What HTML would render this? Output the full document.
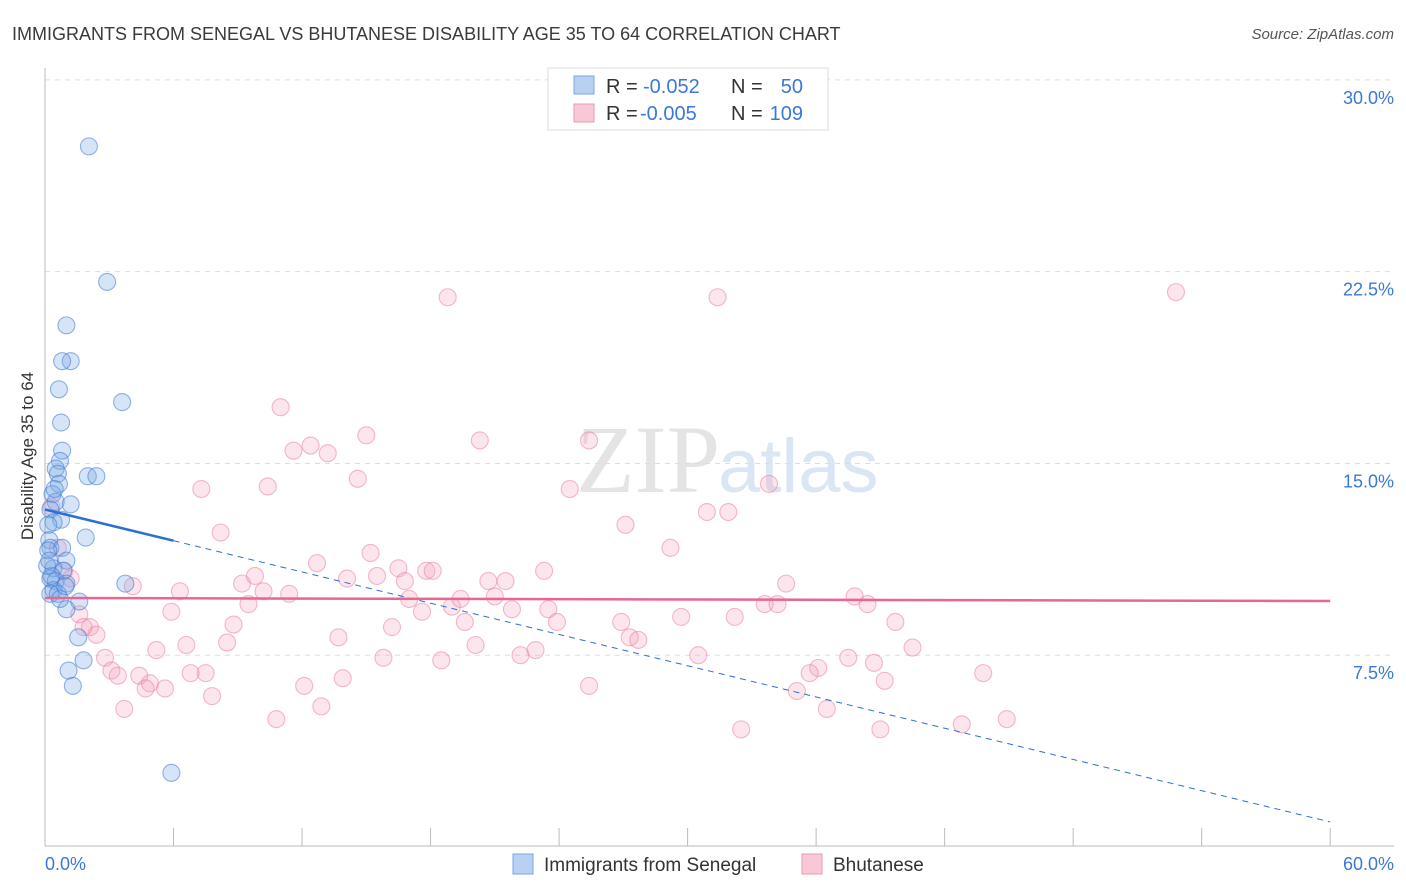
<!DOCTYPE html>
<html><head><meta charset="utf-8"><style>
body{margin:0;background:#fff;font-family:"Liberation Sans",sans-serif;}
svg{display:block}
</style></head><body>
<svg id="c" width="1406" height="892" xmlns="http://www.w3.org/2000/svg">
<text x="12" y="40" font-size="18" fill="#3a3a3a">IMMIGRANTS FROM SENEGAL VS BHUTANESE DISABILITY AGE 35 TO 64 CORRELATION CHART</text>
<text x="1394" y="39" font-size="15" fill="#555" text-anchor="end" font-style="italic">Source: ZipAtlas.com</text>
<text x="720" y="492" font-size="96" fill="#e4e4e4" text-anchor="end" font-family="Liberation Serif">ZIP</text>
<text x="718" y="492" font-size="76" fill="#dbe6f4">atlas</text>
<g id="grid"></g><g id="axes"></g><g id="pts"></g><g id="trend"></g>
<text transform="translate(33,456) rotate(-90)" font-size="17" fill="#333" text-anchor="middle">Disability Age 35 to 64</text>
<text x="45" y="870" font-size="18" fill="#3b78d8">0.0%</text>
<text x="1394" y="870" font-size="18" fill="#3b78d8" text-anchor="end">60.0%</text>
<g>
<rect x="548" y="68" width="280" height="62" fill="#fff" stroke="#ddd"/>
<rect x="574" y="76" width="20" height="18" fill="#b8d1f3" stroke="#7aa6e0"/>
<rect x="574" y="104" width="20" height="18" fill="#f8c8d6" stroke="#e99ab2"/>
<text x="606" y="93" font-size="20" fill="#333">R =</text>
<text x="643" y="93" font-size="20" fill="#3b78d8">-0.052</text>
<text x="731" y="93" font-size="20" fill="#333">N =</text>
<text x="803" y="93" font-size="20" fill="#3b78d8" text-anchor="end">50</text>
<text x="606" y="120" font-size="20" fill="#333">R =</text>
<text x="640" y="120" font-size="20" fill="#3b78d8">-0.005</text>
<text x="731" y="120" font-size="20" fill="#333">N =</text>
<text x="803" y="120" font-size="20" fill="#3b78d8" text-anchor="end">109</text>
</g>
<g>
<rect x="513" y="854" width="20" height="20" fill="#b8d1f3" stroke="#7aa6e0"/>
<text x="544" y="871" font-size="19" fill="#333">Immigrants from Senegal</text>
<rect x="802" y="854" width="20" height="20" fill="#f8c8d6" stroke="#e99ab2"/>
<text x="833" y="871" font-size="19" fill="#333">Bhutanese</text>
</g>
</svg>
<script>
const yTicks=[7.5,15,22.5,30];
const yTickLabels=["7.5%","15.0%","22.5%","30.0%"];
const xTicks=[0,6,12,18,24,30,36,42,48,54,60];
const blueX=[2.05,2.9,1.0,1.2,0.8,0.65,3.6,0.75,0.8,0.7,0.5,0.6,2.0,2.4,0.65,0.35,0.5,1.2,0.25,0.75,0.4,0.15,1.9,0.2,0.25,0.8,1.0,0.4,0.85,0.25,0.5,1.0,3.75,0.4,0.25,0.6,1.6,1.0,1.55,1.8,1.1,1.3,5.9,0.15,0.3,0.7,0.1,0.45,0.95,0.2];
const blueY=[27.4,22.1,20.4,19.0,19.0,17.9,17.4,16.6,15.5,15.1,14.8,14.6,14.5,14.5,14.2,13.8,13.5,13.4,13.2,12.8,12.7,12.6,12.1,12.0,11.7,11.7,11.2,10.9,10.8,10.5,10.4,10.3,10.3,10.05,9.9,9.9,9.6,9.3,8.2,7.3,6.9,6.3,2.9,11.6,10.6,9.7,11.0,14.0,10.2,11.2];
const pinkX=[18.8,31.4,52.8,11.0,15.0,20.3,25.4,12.4,11.6,13.2,14.6,7.3,10.4,24.5,33.8,27.1,30.9,31.9,8.2,29.2,15.2,12.7,0.6,0.9,0.3,23.3,16.5,17.8,18.1,14.1,15.5,16.8,20.7,21.5,9.8,9.2,6.3,4.1,1.2,10.2,11.4,34.6,17.0,19.0,21.0,19.4,9.5,21.8,23.5,5.9,1.6,37.8,38.4,33.6,34.2,17.6,19.6,23.9,26.9,29.7,32.2,39.7,8.8,2.1,2.4,1.8,27.3,27.7,16.2,13.7,6.6,8.5,5.2,20.1,22.9,22.2,40.5,15.8,18.5,30.5,37.5,38.7,2.8,36.1,35.7,7.5,6.8,3.1,3.4,4.4,4.9,4.7,5.6,12.1,13.9,25.4,39.2,43.8,35.1,7.8,36.5,12.9,3.7,10.8,32.5,39.0,42.8,44.9];
const pinkY=[21.5,21.5,21.7,17.2,16.1,15.9,15.9,15.7,15.5,15.4,14.4,14.0,14.1,14.0,14.2,12.6,13.1,13.1,12.3,11.7,11.5,11.1,11.7,10.8,13.3,10.8,10.9,10.8,10.8,10.5,10.6,10.4,10.4,10.4,10.6,10.3,10.0,10.2,10.5,10.0,9.9,10.3,9.7,9.4,9.8,9.7,9.5,9.3,9.3,9.2,9.1,9.8,9.5,9.5,9.5,9.2,8.8,8.8,8.8,9.0,9.0,8.8,8.7,8.6,8.3,8.6,8.2,8.1,8.6,8.2,7.9,8.0,7.7,7.9,7.7,7.5,7.8,7.4,7.3,7.5,7.4,7.2,7.4,7.0,6.8,6.8,6.8,6.9,6.7,6.7,6.4,6.2,6.2,6.3,6.6,6.3,6.5,6.8,6.1,5.9,5.4,5.5,5.4,5.0,4.6,4.6,4.8,5.0];
const blueTrend=[13.2,0.98]; // y at x=0 and x=60
const pinkTrend=[9.74,9.62];
const NS="http://www.w3.org/2000/svg";
const X=v=>45+v*21.42, Y=v=>847-v*25.57;
function mk(t,a,p){const e=document.createElementNS(NS,t);for(const k in a)e.setAttribute(k,a[k]);p.appendChild(e);return e;}
const grid=document.getElementById('grid'),axes=document.getElementById('axes'),pts=document.getElementById('pts'),tr=document.getElementById('trend');
yTicks.forEach((t,i)=>{
 const l=mk('line',{x1:45,x2:1394,y1:Y(t),y2:Y(t),stroke:'#ddd','stroke-dasharray':'5,5'},grid);
 
 
 const tx=mk('text',{x:1394,y:Y(t)+24,'font-size':18,fill:'#3b78d8','text-anchor':'end'},grid);
 tx.textContent=yTickLabels[i];
 
 
});
const ax=mk('line',{x1:45,x2:45,y1:68,y2:846,stroke:'#bbb'},axes);


const bx=mk('line',{x1:45,x2:1394,y1:846,y2:846,stroke:'#bbb'},axes);


xTicks.forEach(t=>{
 const l=mk('line',{x1:X(t),x2:X(t),y1:828,y2:846,stroke:'#bbb'},axes);
 
 
});
pinkX.forEach((v,i)=>{
 const c=mk('circle',{cx:X(v),cy:Y(pinkY[i]),r:8.5,fill:'rgba(244,160,187,0.28)',stroke:'rgba(232,120,155,0.5)','stroke-width':1.1},pts);
 
 
});
blueX.forEach((v,i)=>{
 const c=mk('circle',{cx:X(v),cy:Y(blueY[i]),r:8.5,fill:'rgba(120,165,230,0.3)',stroke:'rgba(60,120,210,0.55)','stroke-width':1.1},pts);
 
 
});
const by=x=>blueTrend[0]+(blueTrend[1]-blueTrend[0])*x/60;
const b1=mk('line',{x1:X(0),y1:Y(by(0)),x2:X(6),y2:Y(by(6)),stroke:'#2a6fd6','stroke-width':2.5},tr);


const b2=mk('line',{x1:X(6),y1:Y(by(6)),x2:X(60),y2:Y(by(60)),stroke:'#2a6fd6','stroke-width':1,'stroke-dasharray':'6,5'},tr);


const p1=mk('line',{x1:X(0),y1:Y(pinkTrend[0]),x2:X(60),y2:Y(pinkTrend[1]),stroke:'#e8668f','stroke-width':2.5},tr);


</script>
</body></html>
